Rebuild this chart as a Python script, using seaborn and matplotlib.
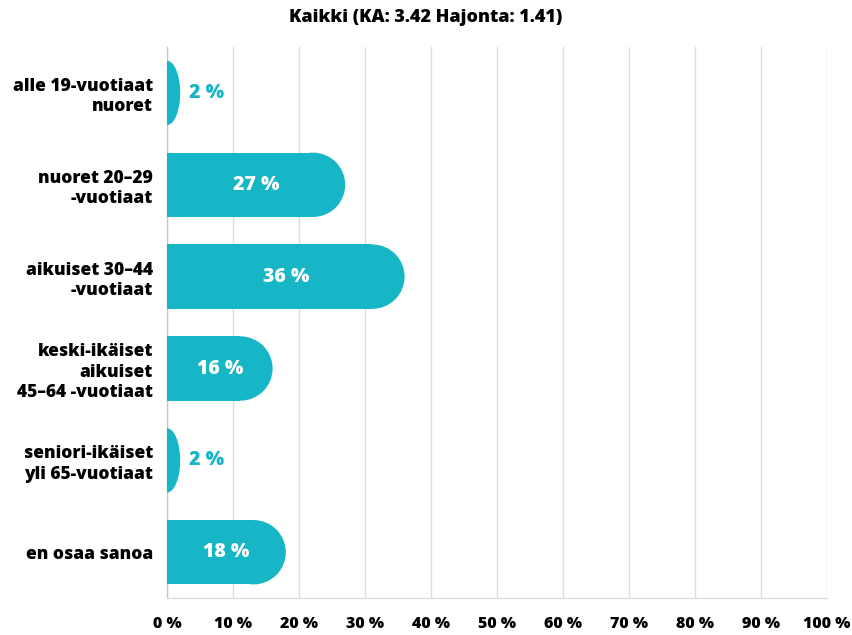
import numpy as np
import pandas as pd
import matplotlib.pyplot as plt
import seaborn as sns
from matplotlib.patches import Rectangle, Ellipse

# Data
categories = ['alle 19-vuotiaat\nnuoret', 'nuoret 20–29\n-vuotiaat', 'aikuiset 30–44\n-vuotiaat',
              'keski-ikäiset\naikuiset\n45–64 -vuotiaat', 'seniori-ikäiset\nyli 65-vuotiaat',
              'en osaa sanoa']
values = [2, 27, 36, 16, 2, 18]
x_ticks = [0, 10, 20, 30, 40, 50, 60, 70, 80, 90, 100]
title = 'Kaikki (KA: 3.42 Hajonta: 1.41)'

bar_color = '#17b6c6'
heavy = 800

sns.set_theme(style="white")
plt.rcParams['font.family'] = ['Open Sans', 'DejaVu Sans']
plt.rcParams['font.weight'] = heavy

df = pd.DataFrame({'cat': categories, 'val': values})

fig, ax = plt.subplots(figsize=(8.52, 6.35), dpi=100)
plt.subplots_adjust(left=0.196, right=0.9707, top=0.926, bottom=0.058)

sns.barplot(data=df, x='val', y='cat', orient='h', color=bar_color,
            width=0.70, saturation=1, ax=ax)
ax.set_xlim(0, 100)
ax.set_ylim(len(categories) - 0.5, -0.5)

# pixel scale for rounded ends
fig.canvas.draw()
bbox = ax.get_window_extent()
px_per_x = bbox.width / 100.0

# replace rectangular bars with bars that have a rounded right end
for p in list(ax.patches):
    x0, y0, w, h = p.get_x(), p.get_y(), p.get_width(), p.get_height()
    p.set_visible(False)
    rx = min(h * 0.5 * (bbox.height / len(categories)) / px_per_x, w)
    body = w - rx
    if body > 0:
        ax.add_patch(Rectangle((x0, y0), body, h, facecolor=bar_color,
                               edgecolor='none', zorder=3))
    ax.add_patch(Ellipse((x0 + body, y0 + h / 2), 2 * rx, h, facecolor=bar_color,
                         edgecolor='none', zorder=3, clip_on=True))

# value labels
for i, v in enumerate(values):
    if v >= 10:
        ax.text(v / 2, i, f'{v} %', ha='center', va='center', color='white',
                fontsize=14, fontweight=heavy, zorder=4)
    else:
        ax.text(v + 1.3, i, f'{v} %', ha='left', va='center', color=bar_color,
                fontsize=14, fontweight=heavy, zorder=4)

# grid and axes
ax.set_xticks(x_ticks)
ax.set_xticklabels([f'{t} %' for t in x_ticks])
ax.grid(axis='x', color='#dddddd', linewidth=1, zorder=0)
ax.set_axisbelow(True)
for name, spine in ax.spines.items():
    if name in ['left', 'bottom']:
        spine.set_visible(True)
        spine.set_color('#c8c8c8' if name == 'left' else '#dddddd')
        spine.set_linewidth(1)
    else:
        spine.set_visible(False)

ax.tick_params(axis='x', length=0, pad=13, labelsize=11.5, labelcolor='black')
ax.tick_params(axis='y', length=0, pad=10, labelsize=12.5, labelcolor='black')
for lab in ax.get_yticklabels():
    lab.set_fontweight(heavy)
    lab.set_linespacing(1.25)
for lab in ax.get_xticklabels():
    lab.set_fontweight(heavy)

ax.set_xlabel('')
ax.set_ylabel('')
fig.text(0.5, 0.972, title, ha='center', va='center', fontsize=13,
         fontweight=heavy, color='black')

plt.savefig('out.png', dpi=100)
